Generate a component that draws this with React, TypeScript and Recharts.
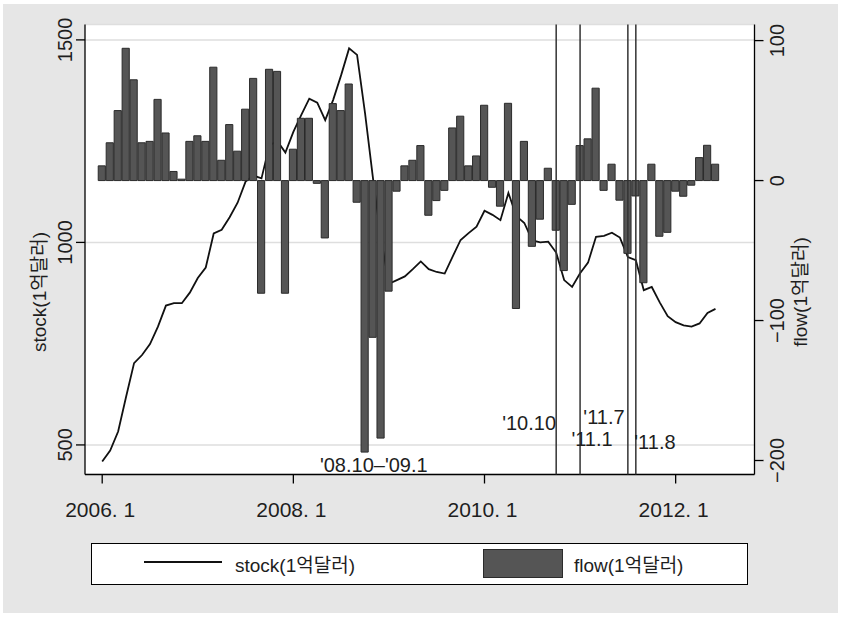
import {
  ComposedChart, Bar, Line, XAxis, YAxis, CartesianGrid, ReferenceLine, ReferenceDot, Legend,
} from 'recharts'

// monthly, 2006.1 .. 2012.6 (index 0 = 2006.1)
const stock = [
  459, 486, 533, 619, 702, 722, 749, 792, 844, 850, 850, 876,
  912, 938, 1022, 1031, 1062, 1098, 1150, 1165, 1158, 1240, 1250, 1222,
  1273, 1315, 1355, 1345, 1302, 1352, 1413, 1479, 1463, 1319, 1158, 1010,
  898, 907, 916, 934, 953, 934, 927, 923, 965, 1006, 1023, 1039,
  1078, 1068, 1055, 1122, 1065, 1048, 1005, 1000, 1002, 975, 907, 890,
  924, 950, 1014, 1016, 1024, 1012, 964, 956, 882, 890, 852, 818,
  803, 795, 792, 800, 826, 836,
]

const flow = [
  10.5, 27, 50, 94.5, 72, 27, 28, 58, 34, 6.5, 1, 28,
  32, 28, 81, 14.5, 40, 21, 51, 73, -80.5, 79.5, 78, -80.5,
  22.4, 44.5, 44.5, -2, -41, 55, 50, 69, -15.5, -194, -112, -184,
  -79, -7.6, 10.5, 14.5, 25, -24.8, -14.3, -7, 37.6, 46, 10.5, 17.6,
  53.8, -4.8, -18.3, 55.2, -91.4, 28, -47, -27.6, 8.8, -35.5, -64.3, -17,
  25, 29.8, 66, -7, 11.7, -14, -52, -11, -73, 11.7, -39.8, -37,
  -7.6, -11.2, -3.3, 16.4, 25.2, 11.7,
]

const xTicks = [0, 24, 48, 72]
const xTickLabels = ['2006. 1', '2008. 1', '2010. 1', '2012. 1']
const stockTicks = [500, 1000, 1500]
const flowTicks = [100, 0, -100, -200]

// event months (vertical lines): '10.10, '11.1, '11.7, '11.8
const eventMonths = [57, 60, 66, 67]

// text notes: month position, stock-axis level
const noteText = ["'08.10\u2013'09.1", "'10.10", "'11.7", "'11.1", "'11.8"]
const noteMonth = [34.1, 53.6, 63.0, 61.5, 69.4]
const noteLevel = [451, 555, 570, 515, 508]

const FONT = "'Liberation Sans', Arial, 'Noto Sans CJK KR', sans-serif"
const INK = '#1e1e1e'
const BAR_FILL = '#555555'
const BAR_EDGE = '#2b2b2b'

const data = stock.map((s, i) => ({ m: i, stock: s, flow: flow[i] }))
const notes = noteText.map((t, i) => ({ t, m: noteMonth[i], v: noteLevel[i] }))

const fmtNum = (v: number) => (v < 0 ? '\u2212' + Math.abs(v) : String(v))

// eslint-disable-next-line @typescript-eslint/no-explicit-any
const XTick = ({ x, y, payload }: any) => (
  <text x={x - 2} y={y + 31.5} textAnchor="middle" fontSize={21} fill={INK} fontFamily={FONT}>
    {xTickLabels[xTicks.indexOf(payload.value)]}
  </text>
)

// eslint-disable-next-line @typescript-eslint/no-explicit-any
const LeftTick = ({ x, y, payload }: any) => (
  <text x={x - 2} y={y} transform={`rotate(-90, ${x - 2}, ${y})`} textAnchor="middle"
    fontSize={20} fill={INK} fontFamily={FONT}>
    {fmtNum(payload.value)}
  </text>
)

// eslint-disable-next-line @typescript-eslint/no-explicit-any
const RightTick = ({ x, y, payload }: any) => (
  <text x={x + 18.5} y={y} transform={`rotate(-90, ${x + 18.5}, ${y})`} textAnchor="middle"
    fontSize={20} fill={INK} fontFamily={FONT}>
    {fmtNum(payload.value)}
  </text>
)

// eslint-disable-next-line @typescript-eslint/no-explicit-any
const axisTitle = (text: string, dx: number) => ({ viewBox }: any) => {
  const x = viewBox.x + dx
  const y = 292
  return (
    <text x={x} y={y} transform={`rotate(-90, ${x}, ${y})`} textAnchor="middle"
      fontSize={19} fill={INK} fontFamily={FONT}>
      {text}
    </text>
  )
}

// eslint-disable-next-line @typescript-eslint/no-explicit-any
const noteShape = (text: string) => ({ cx, cy }: any) => (
  <text x={cx} y={cy + 7} textAnchor="middle" fontSize={20} fill={INK} fontFamily={FONT}>
    {text}
  </text>
)

const LegendBox = () => (
  <svg width={657} height={42} style={{ display: 'block' }}>
    <rect x={0.5} y={0.5} width={656} height={41} fill="#fff" stroke="#000" strokeWidth={1} />
    <line x1={53} x2={131} y1={19} y2={19} stroke="#111" strokeWidth={1.8} />
    <text x={144} y={29} fontSize={19} fill={INK} fontFamily={FONT}>stock(1억달러)</text>
    <rect x={392.5} y={6.5} width={79} height={28} fill={BAR_FILL} stroke={BAR_EDGE} strokeWidth={1} />
    <text x={483} y={29} fontSize={19} fill={INK} fontFamily={FONT}>flow(1억달러)</text>
  </svg>
)

export default function App() {
  return (
    <div style={{ position: 'absolute', left: 0, top: 0, width: 841, height: 617, background: '#fff' }}>
      <div style={{ position: 'absolute', left: 3, top: 4, width: 835, height: 609, background: '#e6e6e6' }} />
      <div style={{ position: 'absolute', left: 0, top: 0 }}>
        <ComposedChart width={841} height={617} data={data}
          margin={{ top: 24.5, right: 0, bottom: 92.5, left: 0 }}>
          <CartesianGrid yAxisId="left" vertical={false} fill="#fff" stroke="#dedede" strokeWidth={1.5} />
          <XAxis dataKey="m" type="number" domain={[-2.16, 81.9]} allowDataOverflow
            ticks={xTicks} tick={<XTick />} tickSize={9} height={50}
            axisLine={{ stroke: '#000', strokeWidth: 1.3 }} tickLine={{ stroke: '#000', strokeWidth: 1.3 }} />
          <YAxis yAxisId="left" orientation="left" domain={[427, 1538]} allowDataOverflow
            ticks={stockTicks} tick={<LeftTick />} tickSize={9} width={85}
            axisLine={{ stroke: '#000', strokeWidth: 1.3 }} tickLine={{ stroke: '#000', strokeWidth: 1.3 }}
            label={{ content: axisTitle('stock(1억달러)', 46) }} />
          <YAxis yAxisId="right" orientation="right" domain={[-210, 111.5]} allowDataOverflow
            ticks={flowTicks} tick={<RightTick />} tickSize={9} width={86.5}
            axisLine={{ stroke: '#000', strokeWidth: 1.3 }} tickLine={{ stroke: '#000', strokeWidth: 1.3 }}
            label={{ content: axisTitle('flow(1억달러)', 52.5) }} />
          <Line yAxisId="left" dataKey="stock" type="linear" stroke="#111" strokeWidth={1.8}
            dot={false} activeDot={false} isAnimationActive={false} zIndex={200} />
          <Bar yAxisId="right" dataKey="flow" fill={BAR_FILL} stroke={BAR_EDGE} strokeWidth={1}
            barSize={9} isAnimationActive={false} zIndex={300} />
          {eventMonths.map((m) => (
            <ReferenceLine key={m} yAxisId="left" x={m} stroke="#333" strokeWidth={1.5} zIndex={500} />
          ))}
          {notes.map((n) => (
            <ReferenceDot key={n.t} yAxisId="left" x={n.m} y={n.v} r={0} shape={noteShape(n.t)} zIndex={600} />
          ))}
          <Legend verticalAlign="middle" align="center" layout="horizontal" width={657}
            wrapperStyle={{ top: 543, left: 91, width: 657, height: 42 }} content={<LegendBox />} />
        </ComposedChart>
      </div>
    </div>
  )
}
